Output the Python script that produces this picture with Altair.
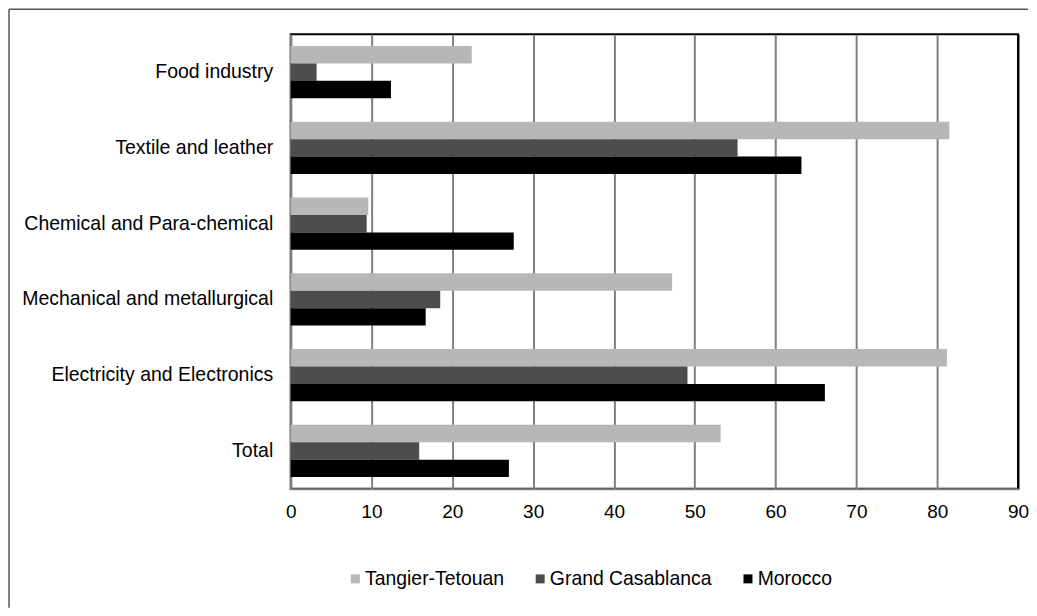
import altair as alt
import pandas as pd

categories = [
    "Food industry",
    "Textile and leather",
    "Chemical and Para-chemical",
    "Mechanical and metallurgical",
    "Electricity and Electronics",
    "Total",
]
series = ["Tangier-Tetouan", "Grand Casablanca", "Morocco"]
tangier = [22.4, 81.5, 9.6, 47.2, 81.2, 53.2]
casablanca = [3.2, 55.3, 9.4, 18.5, 49.1, 15.9]
morocco = [12.4, 63.2, 27.6, 16.7, 66.1, 27.0]
colors = ["#b7b7b7", "#4d4d4d", "#000000"]
x_ticks = [0, 10, 20, 30, 40, 50, 60, 70, 80, 90]

rows = []
for s, vals in zip(series, [tangier, casablanca, morocco]):
    for c, v in zip(categories, vals):
        rows.append({"sector": c, "region": s, "value": v})
df = pd.DataFrame(rows)

bars = alt.Chart(df).mark_bar().encode(
    y=alt.Y(
        "sector:N",
        sort=categories,
        scale=alt.Scale(paddingInner=0.31, paddingOuter=0.155),
        axis=alt.Axis(
            title=None, ticks=False, domain=True, domainColor="#808080",
            domainWidth=2, labelFontSize=19.5, labelPadding=18,
            labelColor="black", labelLimit=400,
        ),
    ),
    yOffset=alt.YOffset("region:N", sort=series,
                        scale=alt.Scale(paddingInner=0, paddingOuter=0)),
    x=alt.X(
        "value:Q",
        scale=alt.Scale(domain=[0, 90], nice=False),
        axis=alt.Axis(
            title=None, values=x_ticks, ticks=False, domainColor="#808080",
            domainWidth=2,
            gridColor={"condition": {"test": "datum.value === 90", "value": "#000000"},
                       "value": "#808080"},
            gridWidth=2, labelFontSize=19, labelPadding=14,
            labelColor="black", labelFlush=False,
        ),
    ),
    color=alt.Color(
        "region:N",
        sort=series,
        scale=alt.Scale(domain=series, range=colors),
        legend=alt.Legend(
            title=None, orient="none", legendX=55, legendY=535,
            direction="horizontal", symbolType="square", symbolSize=81,
            symbolStrokeWidth=0, labelFontSize=19.4, labelOffset=0,
            columnPadding=26, labelColor="black", labelLimit=400,
        ),
    ),
)

frame_data = alt.Data(values=[{"a": 1}])
top_line = alt.Chart(frame_data).mark_rule(color="#555555", strokeWidth=1.5).encode(
    x=alt.value(-282), x2=alt.value(738), y=alt.value(-25)
)
left_line = alt.Chart(frame_data).mark_rule(color="#555555", strokeWidth=1.5).encode(
    x=alt.value(-282), y=alt.value(-25), y2=alt.value(574)
)

chart = alt.layer(bars, top_line, left_line).properties(
    width=728, height=455, padding=0
).configure(
    font="Liberation Sans",
    view=alt.ViewConfig(stroke="black", strokeWidth=2),
)

chart.save("out.html", embed_options={"renderer": "svg", "actions": False})
